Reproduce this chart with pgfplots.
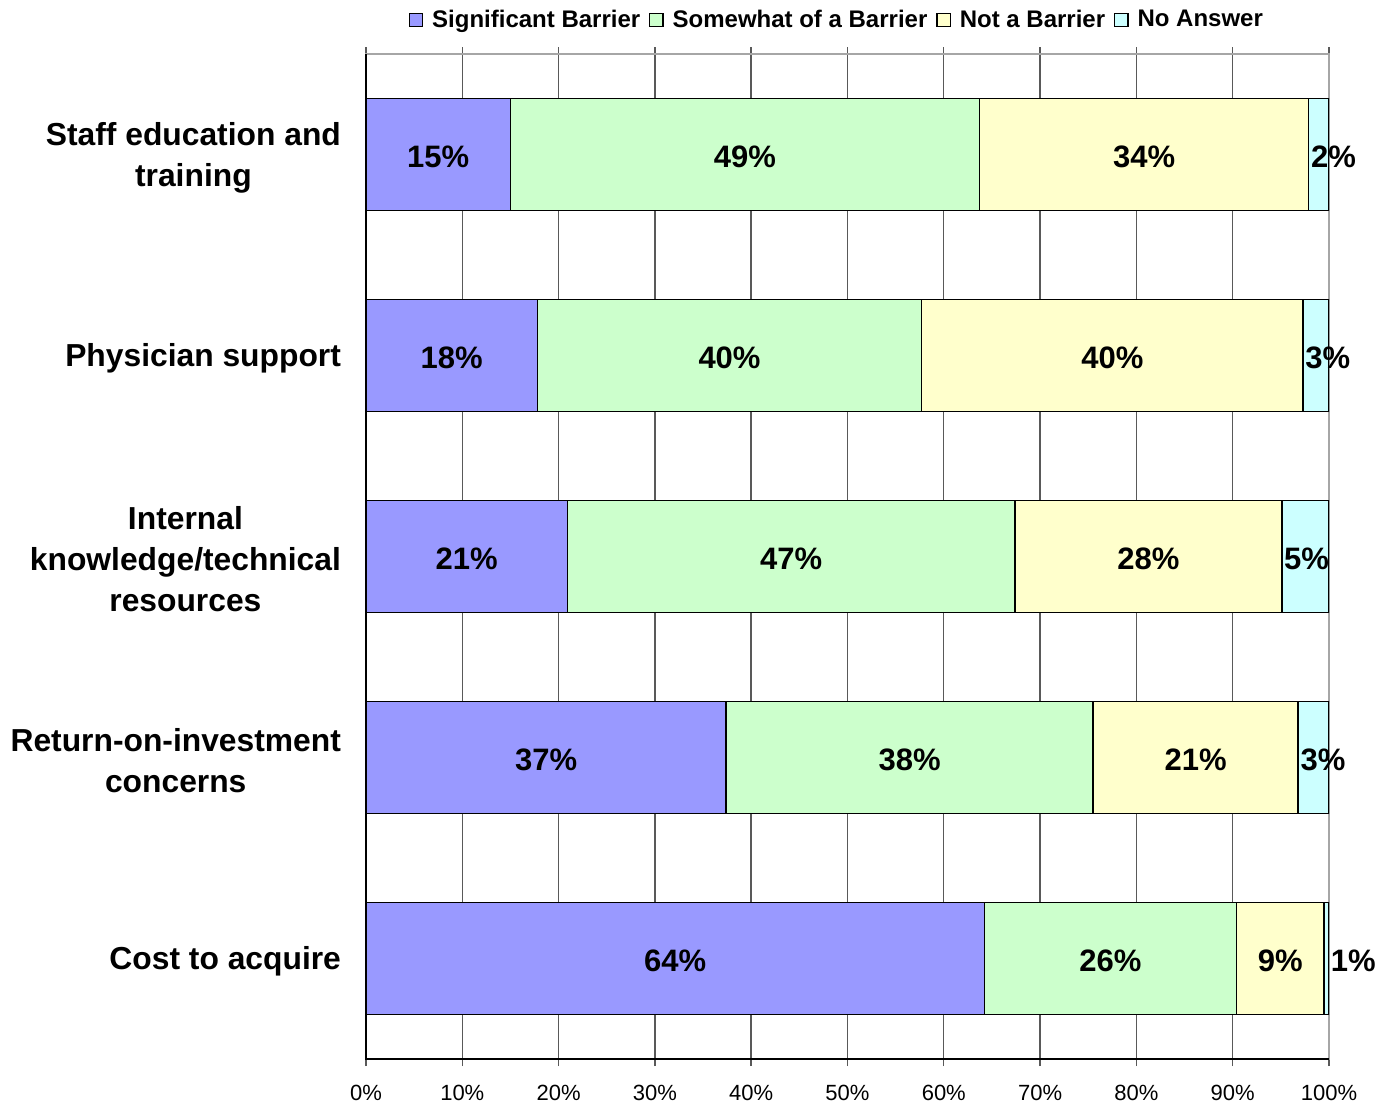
\documentclass[border=0pt]{standalone}
\usepackage{pgfplots}
\pgfplotsset{compat=1.18}
\usepackage{fontspec}
\setmainfont{Liberation Sans}
\definecolor{csig}{HTML}{9999FF}
\definecolor{csom}{HTML}{CCFFCC}
\definecolor{cnot}{HTML}{FFFFCC}
\definecolor{cna}{HTML}{CCFFFF}
\tikzset{lbl/.style={font=\bfseries\fontsize{15.5}{18}\selectfont, yshift=-1pt}}
\begin{document}
\begin{tikzpicture}
\begin{axis}[
  scale only axis,
  width=481.5pt, height=502.5pt,
  anchor=south west, at={(0,0)},
  xbar stacked, bar width=56pt,
  xmin=0, xmax=100, ymin=-0.5, ymax=4.5,
  axis line style={draw=gray!70, line width=0.8pt},
  xtick={0,10,...,100},
  xticklabels={0\%,10\%,20\%,30\%,40\%,50\%,60\%,70\%,80\%,90\%,100\%},
  xticklabel style={font=\fontsize{11}{13}\selectfont, yshift=-6pt},
  xmajorgrids, grid style={draw=black!65, line width=0.7pt},
  tick align=outside,
  major tick length=3.5pt,
  xtick style={draw=black!65, line width=0.7pt},
  ytick={0,1,2,3,4},
  ytick style={draw=none},
  minor ytick={-0.5,0.5,1.5,2.5,3.5,4.5},
  minor tick length=4.5pt,
  every minor tick/.append style={draw=black!70, line width=0.7pt},
  yticklabels={Cost to acquire, Return-on-investment\\concerns, Internal\\knowledge/technical\\resources, Physician support, Staff education and\\training},
  yticklabel style={font=\bfseries\fontsize{15.9}{20.5}\selectfont, align=center, xshift=-5.5pt, yshift=-1.5pt},
  legend columns=-1,
  legend style={draw=none, at={(0.490,1.034)}, anchor=center, font=\bfseries\fontsize{12}{14}\selectfont, column sep=2.5pt},
  legend cell align=left,
  legend image code/.code={\draw[#1,draw=black,line width=0.6pt] (0pt,-3.3pt) rectangle (6.6pt,3.3pt);},
]
\addplot[fill=csig, draw=black, line width=0.7pt] coordinates {(64.2,0) (37.4,1) (20.9,2) (17.8,3) (15.0,4)};
\addplot[fill=csom, draw=black, line width=0.7pt] coordinates {(26.2,0) (38.1,1) (46.5,2) (39.9,3) (48.7,4)};
\addplot[fill=cnot, draw=black, line width=0.7pt] coordinates {(9.1,0) (21.3,1) (27.7,2) (39.6,3) (34.2,4)};
\addplot[fill=cna, draw=black, line width=0.7pt] coordinates {(0.5,0) (3.2,1) (4.9,2) (2.7,3) (2.1,4)};
\legend{Significant Barrier, Somewhat of a Barrier, Not a Barrier, No Answer}
\coordinate (TL) at (rel axis cs:0,1);
\coordinate (BL) at (rel axis cs:0,0);
\coordinate (BR) at (rel axis cs:1,0);
\coordinate (a1) at (axis cs:7.5,4);
\coordinate (a2) at (axis cs:39.35,4);
\coordinate (a3) at (axis cs:80.8,4);
\coordinate (a4) at (axis cs:98.1,4);
\coordinate (b1) at (axis cs:8.9,3);
\coordinate (b2) at (axis cs:37.75,3);
\coordinate (b3) at (axis cs:77.5,3);
\coordinate (b4) at (axis cs:97.5,3);
\coordinate (c1) at (axis cs:10.45,2);
\coordinate (c2) at (axis cs:44.15,2);
\coordinate (c3) at (axis cs:81.25,2);
\coordinate (c4) at (axis cs:95.3,2);
\coordinate (d1) at (axis cs:18.7,1);
\coordinate (d2) at (axis cs:56.45,1);
\coordinate (d3) at (axis cs:86.15,1);
\coordinate (d4) at (axis cs:97.0,1);
\coordinate (e1) at (axis cs:32.1,0);
\coordinate (e2) at (axis cs:77.3,0);
\coordinate (e3) at (axis cs:94.95,0);
\coordinate (e4) at (axis cs:100.15,0);
\end{axis}
\draw[black, line width=0.8pt] (TL) -- (BL) -- (BR);
\node[lbl] at (a1) {15\%};
\node[lbl] at (a2) {49\%};
\node[lbl] at (a3) {34\%};
\node[lbl, anchor=west, inner sep=0pt] at (a4) {2\%};
\node[lbl] at (b1) {18\%};
\node[lbl] at (b2) {40\%};
\node[lbl] at (b3) {40\%};
\node[lbl, anchor=west, inner sep=0pt] at (b4) {3\%};
\node[lbl] at (c1) {21\%};
\node[lbl] at (c2) {47\%};
\node[lbl] at (c3) {28\%};
\node[lbl, anchor=west, inner sep=0pt] at (c4) {5\%};
\node[lbl] at (d1) {37\%};
\node[lbl] at (d2) {38\%};
\node[lbl] at (d3) {21\%};
\node[lbl, anchor=west, inner sep=0pt] at (d4) {3\%};
\node[lbl] at (e1) {64\%};
\node[lbl] at (e2) {26\%};
\node[lbl] at (e3) {9\%};
\node[lbl, anchor=west, inner sep=0pt] at (e4) {1\%};
\pgfresetboundingbox
\path (-183pt,-22.5pt) rectangle (505.5pt,529.5pt);
\end{tikzpicture}
\end{document}
